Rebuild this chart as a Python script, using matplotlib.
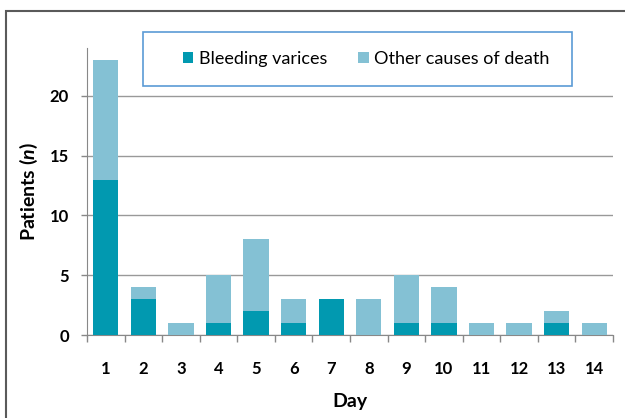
import matplotlib.pyplot as plt
from matplotlib.patches import Rectangle
import numpy as np

plt.rcParams['font.family'] = ['Lato', 'DejaVu Sans']
plt.rcParams['mathtext.fontset'] = 'custom'
plt.rcParams['mathtext.it'] = 'Lato:italic:bold'
plt.rcParams['mathtext.rm'] = 'Lato:bold'

# --- Dữ liệu ---
days = ['1', '2', '3', '4', '5', '6', '7', '8', '9', '10', '11', '12', '13', '14']
bleeding = [13, 3, 0, 1, 2, 1, 3, 0, 1, 1, 0, 0, 1, 0]
other = [10, 1, 1, 4, 6, 2, 0, 3, 4, 3, 1, 1, 1, 1]

dark = '#0199B0'
light = '#84C1D4'

fig = plt.figure(figsize=(6.25, 4.18), dpi=100)
ax = fig.add_axes([87 / 625, 1 - 335 / 418, 526 / 625, 287 / 418])

x = np.arange(len(days))
w = 0.67
ax.bar(x, bleeding, w, color=dark, label='Bleeding varices', zorder=3)
ax.bar(x, other, w, bottom=bleeding, color=light, label='Other causes of death', zorder=3)

ax.set_xlim(-0.5, len(days) - 0.5)
ax.set_ylim(0, 24)
ax.set_yticks([0, 5, 10, 15, 20])
ax.set_xticks(x)
ax.set_xticklabels(days)
ax.set_xticks(np.arange(-0.5, len(days)), minor=True)
ax.tick_params(axis='x', which='major', length=0, pad=19, labelsize=12)
ax.tick_params(axis='x', which='minor', length=5, color='#888888', width=1)
ax.tick_params(axis='y', length=4, color='#888888', width=1, labelsize=12, pad=9)
for lab in ax.get_xticklabels() + ax.get_yticklabels():
    lab.set_fontweight('bold')

ax.grid(axis='y', color='#999999', linewidth=1.0, zorder=0)
for s in ['top', 'right']:
    ax.spines[s].set_visible(False)
ax.spines['left'].set_color('#888888')
ax.spines['bottom'].set_color('#888888')

ax.set_xlabel('Day', fontsize=14, fontweight='bold', labelpad=11)
ax.set_ylabel(r'Patients ($\it{n}$)', fontsize=14, fontweight='bold', labelpad=7)

# Khung legend
fig.add_artist(Rectangle((143 / 625, 1 - 86 / 418), 429 / 625, 54 / 418,
                         transform=fig.transFigure, facecolor='white',
                         edgecolor='#5B9BD5', linewidth=1.2, zorder=5))
leg = fig.legend(loc='center', bbox_to_anchor=(366 / 625, 1 - 59 / 418),
                 ncol=2, frameon=False, fontsize=13, handlelength=0.6,
                 handleheight=0.6, handletextpad=0.3, columnspacing=1.7)
leg.set_zorder(6)

# Khung ngoài
fig.add_artist(Rectangle((6 / 625, -0.1), 1.2, 1 - 11 / 418 + 0.1,
                         transform=fig.transFigure, facecolor='none',
                         edgecolor='#5A5A5A', linewidth=1.5))

fig.savefig('out.png', dpi=100)
